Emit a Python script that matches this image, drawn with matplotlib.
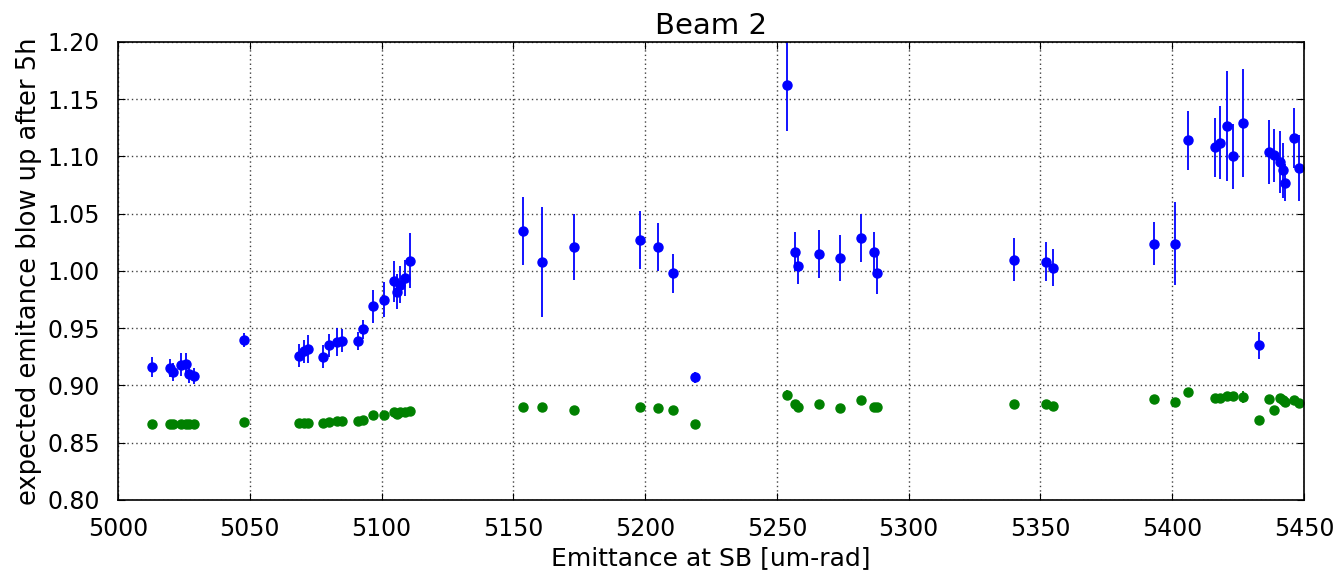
import matplotlib
matplotlib.use("Agg")
import matplotlib.pyplot as plt
import numpy as np

# emittance at stable beams [um-rad]
emit_sb = [5012.9, 5019.6, 5020.9, 5023.8, 5025.7, 5026.8, 5029.0, 5047.8,
           5068.8, 5070.6, 5072.0, 5077.9, 5079.9, 5083.0, 5085.1, 5090.9,
           5093.1, 5096.9, 5100.9, 5104.8, 5105.7, 5107.0, 5108.9, 5110.9,
           5153.8, 5161.0, 5173.0, 5198.1, 5204.9, 5210.7, 5218.9,
           5253.8, 5256.9, 5257.9, 5266.1, 5273.9, 5281.9, 5286.8, 5288.0,
           5340.1, 5352.1, 5354.9, 5393.1, 5401.0, 5405.8,
           5416.2, 5418.1, 5420.9, 5423.0, 5427.0, 5432.9, 5436.8, 5438.7,
           5440.9, 5442.0, 5442.9, 5446.0, 5448.1]

# measured blow up after 5h
blowup_meas = [0.916, 0.915, 0.912, 0.918, 0.919, 0.910, 0.908, 0.940,
               0.926, 0.930, 0.932, 0.925, 0.935, 0.938, 0.939, 0.939,
               0.949, 0.969, 0.975, 0.991, 0.982, 0.988, 0.994, 1.009,
               1.035, 1.008, 1.021, 1.027, 1.021, 0.998, 0.907,
               1.162, 1.017, 1.004, 1.015, 1.011, 1.029, 1.017, 0.998,
               1.010, 1.008, 1.003, 1.024, 1.024, 1.114,
               1.108, 1.112, 1.127, 1.100, 1.129, 0.935, 1.104, 1.101,
               1.095, 1.088, 1.077, 1.116, 1.090]
blowup_meas_err = [0.009, 0.008, 0.008, 0.010, 0.009, 0.008, 0.007, 0.006,
                   0.010, 0.010, 0.012, 0.010, 0.010, 0.012, 0.010, 0.008,
                   0.008, 0.014, 0.015, 0.018, 0.015, 0.016, 0.016, 0.024,
                   0.030, 0.048, 0.029, 0.025, 0.021, 0.017, 0.005,
                   0.040, 0.017, 0.015, 0.021, 0.020, 0.021, 0.017, 0.018,
                   0.019, 0.017, 0.016, 0.019, 0.036, 0.026,
                   0.026, 0.032, 0.048, 0.028, 0.047, 0.012, 0.028, 0.023,
                   0.027, 0.024, 0.016, 0.026, 0.029]

# model prediction
blowup_model = [0.866, 0.866, 0.866, 0.866, 0.866, 0.866, 0.866, 0.868,
                0.867, 0.867, 0.867, 0.867, 0.868, 0.869, 0.869, 0.869,
                0.870, 0.874, 0.874, 0.877, 0.875, 0.877, 0.877, 0.878,
                0.881, 0.881, 0.879, 0.881, 0.880, 0.879, 0.866,
                0.892, 0.884, 0.881, 0.884, 0.880, 0.887, 0.881, 0.881,
                0.884, 0.884, 0.882, 0.888, 0.886, 0.894,
                0.889, 0.889, 0.891, 0.891, 0.890, 0.870, 0.888, 0.879,
                0.889, 0.887, 0.886, 0.887, 0.885]
blowup_model_err = [0.002] * 24 + [0.002, 0.004, 0.002, 0.002, 0.002, 0.002, 0.002,
                    0.004, 0.002, 0.002, 0.002, 0.002, 0.002, 0.002, 0.002,
                    0.002, 0.002, 0.002, 0.004, 0.003, 0.003,
                    0.002, 0.002, 0.003, 0.002, 0.005, 0.002, 0.002, 0.002,
                    0.002, 0.002, 0.002, 0.002, 0.002]

plt.rcParams.update({
    "font.size": 17,
    "xtick.direction": "in",
    "ytick.direction": "in",
    "xtick.top": True,
    "ytick.right": True,
    "xtick.major.size": 5,
    "ytick.major.size": 5,
    "xtick.major.pad": 12,
    "ytick.major.pad": 13,
})

fig = plt.figure(figsize=(13.39, 5.72), dpi=100)
ax = fig.add_axes([0.0881, 0.1259, 0.8858, 0.8007])

ax.errorbar(emit_sb, blowup_meas, yerr=blowup_meas_err, fmt="o", color="b",
            markeredgecolor="b", markersize=6.5, elinewidth=1.3, capsize=0)
ax.errorbar(emit_sb, blowup_model, yerr=blowup_model_err, fmt="o", color="g",
            markeredgecolor="g", markersize=6.5, elinewidth=1.3, capsize=0)

ax.set_xlim(5000, 5450)
ax.set_ylim(0.80, 1.20)
ax.set_xticks(np.arange(5000, 5451, 50))
ax.set_yticks(np.arange(0.80, 1.201, 0.05))
ax.yaxis.set_major_formatter(matplotlib.ticker.FormatStrFormatter("%.2f"))
ax.grid(True, linestyle=(0, (1, 2.2)), color="0.25", linewidth=1)
for s in ax.spines.values():
    s.set_linewidth(1.2)

ax.set_xlabel("Emittance at SB [um-rad]", fontsize=18)
ax.set_ylabel("expected emitance blow up after 5h", fontsize=18.5)
ax.set_title("Beam 2", fontsize=21)

fig.savefig("out.png", dpi=100, facecolor="white")
